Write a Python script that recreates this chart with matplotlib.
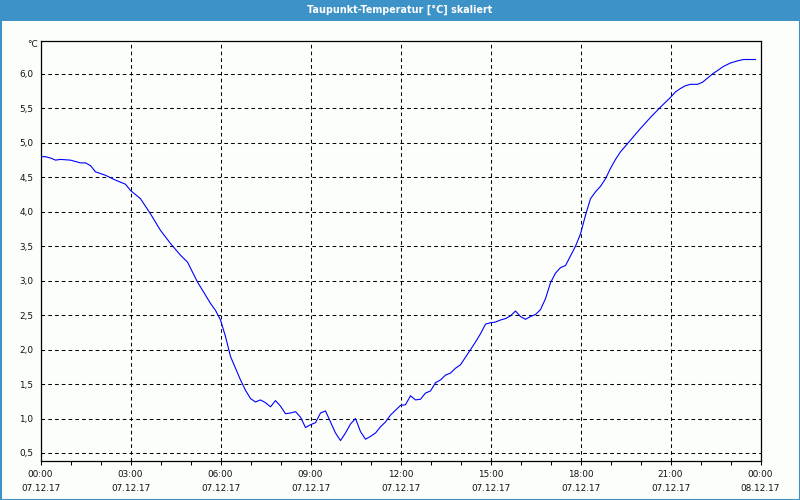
import matplotlib
matplotlib.use("Agg")
import matplotlib.pyplot as plt
from matplotlib.patches import Rectangle
from matplotlib.ticker import MultipleLocator

# ---- data ----
minutes = [0, 10, 20, 30, 40, 60, 80, 90, 100, 110, 130, 150, 170, 180, 200, 220, 240,
           260, 280, 294, 314, 320, 340, 350, 360, 370, 380, 390, 400, 410, 420, 430,
           440, 450, 460, 470, 480, 490, 500, 510, 520, 530, 540, 550, 560, 570, 580,
           590, 600, 610, 620, 630, 640, 650, 660, 670, 680, 690, 700, 710, 720, 730,
           740, 750, 760, 770, 780, 790, 800, 810, 820, 830, 840, 850, 860, 870, 880,
           890, 900, 910, 920, 930, 940, 950, 960, 970, 980, 990, 1000, 1010, 1020,
           1030, 1040, 1050, 1060, 1070, 1080, 1090, 1100, 1110, 1120, 1130, 1140,
           1150, 1160, 1180, 1200, 1220, 1240, 1260, 1270, 1280, 1290, 1300, 1314,
           1324, 1334, 1344, 1354, 1366, 1380, 1394, 1406, 1430]
dewpoint = [4.80, 4.80, 4.78, 4.75, 4.76, 4.75, 4.71, 4.71, 4.67, 4.58, 4.53, 4.46, 4.40,
            4.31, 4.19, 3.97, 3.73, 3.54, 3.37, 3.27, 2.98, 2.91, 2.67, 2.57, 2.43, 2.19,
            1.90, 1.73, 1.56, 1.41, 1.29, 1.24, 1.27, 1.23, 1.17, 1.26, 1.18, 1.07, 1.08,
            1.10, 1.02, 0.87, 0.91, 0.94, 1.08, 1.11, 0.95, 0.79, 0.68, 0.79, 0.92, 1.00,
            0.81, 0.70, 0.74, 0.79, 0.88, 0.95, 1.05, 1.12, 1.19, 1.20, 1.33, 1.27, 1.28,
            1.37, 1.40, 1.52, 1.56, 1.63, 1.66, 1.73, 1.78, 1.89, 2.00, 2.11, 2.23, 2.37,
            2.39, 2.40, 2.43, 2.45, 2.49, 2.56, 2.48, 2.44, 2.48, 2.51, 2.58, 2.74, 2.97,
            3.11, 3.19, 3.22, 3.36, 3.50, 3.68, 3.95, 4.19, 4.29, 4.37, 4.48, 4.63, 4.76,
            4.87, 5.04, 5.21, 5.37, 5.52, 5.66, 5.74, 5.79, 5.83, 5.85, 5.85, 5.88, 5.94,
            6.00, 6.05, 6.11, 6.16, 6.19, 6.21, 6.21]
x_ticks_h = [0, 3, 6, 9, 12, 15, 18, 21, 24]
x_tick_labels = ["00:00\n07.12.17", "03:00\n07.12.17", "06:00\n07.12.17", "09:00\n07.12.17",
                 "12:00\n07.12.17", "15:00\n07.12.17", "18:00\n07.12.17", "21:00\n07.12.17",
                 "00:00\n08.12.17"]
y_ticks = [0.5, 1.0, 1.5, 2.0, 2.5, 3.0, 3.5, 4.0, 4.5, 5.0, 5.5, 6.0]
title = "Taupunkt-Temperatur [°C] skaliert"
unit = "°C"

W, H = 800, 500
bg = "#fcfefc"
bar = "#3d92c8"

fig = plt.figure(figsize=(W / 100, H / 100), dpi=100, facecolor=bg)

# title bar and frame
fig.patches.append(Rectangle((0, 1 - 20.5 / H), 1, 20.5 / H, transform=fig.transFigure,
                             facecolor=bar, edgecolor="none", zorder=0))
fig.patches.append(Rectangle((0.5 / W, 0.5 / H), 1 - 1.0 / W, 1 - 1.0 / H,
                             transform=fig.transFigure, facecolor="none",
                             edgecolor=bar, linewidth=1.5, zorder=5))
fig.text(0.5, 1 - 9.5 / H, title, color="white", ha="center", va="center",
         fontsize=6.9, fontweight="bold", family="DejaVu Sans")

ax = fig.add_axes([40.5 / W, 1 - 460.7 / H, 720 / W, 420 / H])
ax.set_facecolor(bg)

hours = [m / 60 for m in minutes]
ax.plot(hours, dewpoint, color="#0000ff", linewidth=0.8, zorder=3)

ax.set_xlim(0, 24)
ax.set_ylim(0.388, 6.483)

ax.set_xticks(x_ticks_h)
ax.set_xticklabels(x_tick_labels, linespacing=1.7)
ax.xaxis.set_minor_locator(MultipleLocator(1))
ax.tick_params(axis="x", which="both", direction="out", length=3, width=0.75,
               color="black", pad=3.5, labelsize=6.4, labelcolor="#111111")
ax.set_yticks(y_ticks)
ax.set_yticklabels([f"{v:.1f}".replace(".", ",") for v in y_ticks])
ax.tick_params(axis="y", which="both", length=0, pad=5, labelsize=6.4, labelcolor="#111111")

ax.grid(True, which="major", color="black", linewidth=0.75, linestyle=(0, (3.5, 3)))

for s in ax.spines.values():
    s.set_color("black")
    s.set_linewidth(0.9)

fig.text(37.5 / W, 1 - 44.5 / H, unit, ha="right", va="center", fontsize=6.4,
         color="#111111")

fig.savefig("out.png", dpi=100, facecolor=bg)
